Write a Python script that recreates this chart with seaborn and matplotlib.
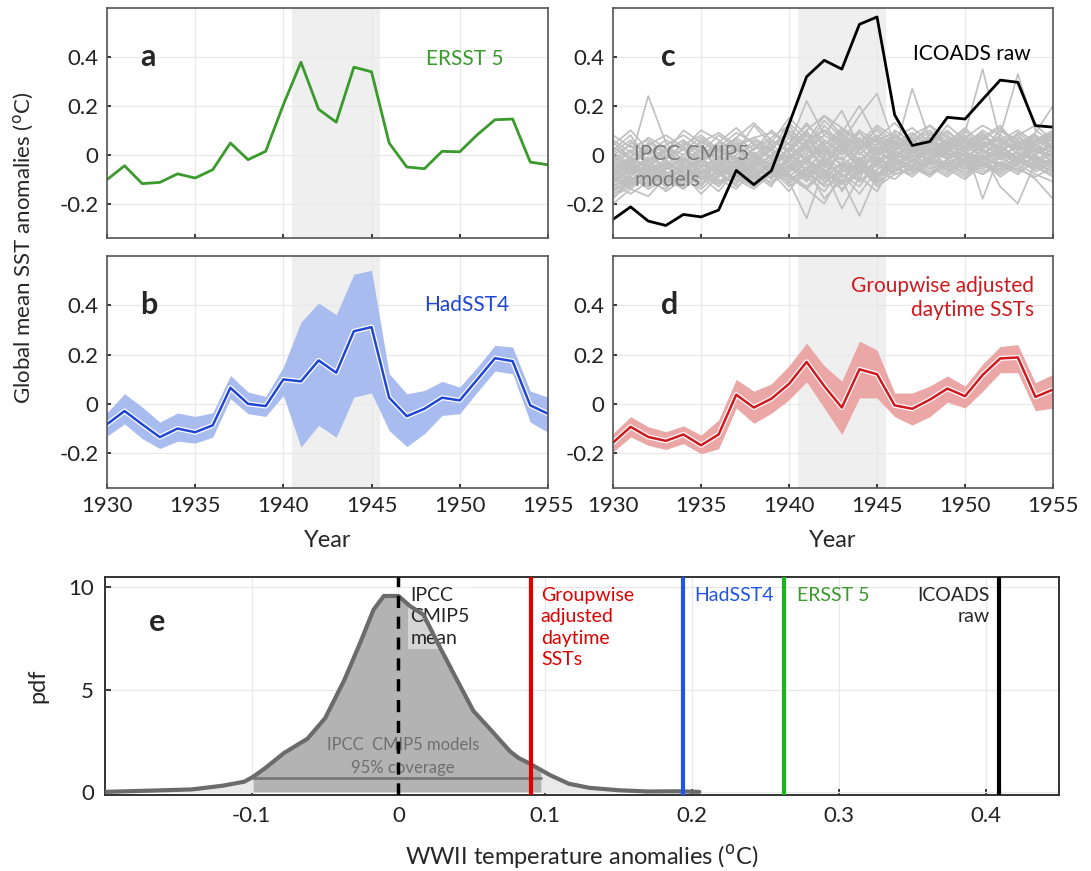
import numpy as np
import pandas as pd
import matplotlib
matplotlib.use('Agg')
import matplotlib.pyplot as plt
import matplotlib.patheffects as pe
import seaborn as sns

# ---------------- data ----------------
YEARS = list(range(1930, 1956))

ERSST5 = [-0.102, -0.045, -0.118, -0.113, -0.078, -0.095, -0.061, 0.048, -0.020, 0.014,
          0.204, 0.378, 0.186, 0.133, 0.358, 0.339, 0.048, -0.050, -0.057, 0.014,
          0.012, 0.082, 0.143, 0.146, -0.030, -0.041]

HADSST4 = [-0.082, -0.028, -0.082, -0.134, -0.099, -0.114, -0.086, 0.066, 0.001, -0.008,
           0.100, 0.092, 0.177, 0.127, 0.295, 0.312, 0.026, -0.049, -0.019, 0.026,
           0.015, 0.100, 0.186, 0.174, -0.005, -0.039]
HADSST4_HI = [-0.035, 0.042, -0.012, -0.073, -0.036, -0.050, -0.035, 0.116, 0.049, 0.031,
              0.150, 0.332, 0.410, 0.362, 0.526, 0.542, 0.123, 0.042, 0.055, 0.092,
              0.069, 0.150, 0.238, 0.231, 0.053, 0.028]
HADSST4_LO = [-0.130, -0.080, -0.140, -0.180, -0.150, -0.158, -0.134, 0.022, -0.039, -0.050,
              0.035, -0.174, -0.086, -0.134, 0.028, 0.045, -0.107, -0.172, -0.120, -0.046,
              -0.039, 0.049, 0.134, 0.123, -0.073, -0.114]

ICOADS = [-0.264, -0.213, -0.271, -0.289, -0.244, -0.254, -0.226, -0.064, -0.122, -0.065,
          0.125, 0.319, 0.386, 0.350, 0.533, 0.563, 0.163, 0.038, 0.054, 0.153,
          0.146, 0.226, 0.305, 0.296, 0.119, 0.113]

GROUPWISE = [-0.156, -0.092, -0.133, -0.149, -0.123, -0.167, -0.123, 0.038, -0.014, 0.022,
             0.082, 0.171, 0.073, -0.014, 0.141, 0.121, -0.005, -0.019, 0.018, 0.063,
             0.032, 0.118, 0.185, 0.189, 0.029, 0.059]
GROUPWISE_HI = [-0.119, -0.051, -0.092, -0.112, -0.088, -0.126, -0.064, 0.100, 0.052, 0.082,
                0.155, 0.247, 0.155, 0.093, 0.255, 0.219, 0.045, 0.045, 0.073, 0.114,
                0.073, 0.162, 0.233, 0.241, 0.086, 0.121]
GROUPWISE_LO = [-0.194, -0.133, -0.167, -0.184, -0.160, -0.201, -0.181, -0.016, -0.078, -0.037,
                0.018, 0.090, -0.016, -0.123, 0.025, 0.025, -0.051, -0.085, -0.051, 0.008,
                -0.016, 0.052, 0.127, 0.127, -0.027, -0.016]

# IPCC CMIP5 model runs (read roughly from the spaghetti cloud)
CMIP5_RUNS = [
    [-0.05, -0.02, 0.24, 0.05, -0.03, 0.02, -0.06, 0.04, -0.01, -0.08, 0.03, 0.10, -0.04, 0.06, 0.01, -0.05, 0.08, 0.02, -0.03, 0.05, 0.10, 0.02, -0.04, 0.06, 0.01, 0.04],
    [-0.10, -0.14, -0.08, -0.12, -0.05, -0.09, -0.15, -0.06, -0.03, -0.10, -0.02, 0.05, -0.08, -0.12, 0.03, -0.04, 0.01, -0.03, 0.04, 0.00, -0.02, 0.05, 0.03, -0.01, 0.06, 0.02],
    [0.02, 0.08, -0.03, 0.01, 0.06, -0.02, 0.03, 0.09, 0.05, -0.01, 0.07, 0.00, 0.12, 0.04, -0.06, 0.08, 0.03, 0.07, 0.01, 0.04, 0.09, 0.35, 0.06, 0.02, 0.05, 0.08],
    [-0.12, -0.06, -0.10, -0.03, -0.08, -0.13, -0.05, -0.09, -0.02, -0.06, -0.11, -0.26, -0.05, -0.01, -0.07, 0.02, -0.04, 0.01, -0.02, 0.03, -0.03, 0.00, -0.05, 0.02, -0.01, -0.04],
    [-0.03, 0.05, 0.01, -0.06, 0.00, 0.04, -0.02, 0.07, 0.02, 0.10, 0.04, 0.22, 0.08, 0.03, 0.10, 0.05, 0.01, 0.27, 0.06, 0.03, 0.07, 0.02, 0.10, 0.04, 0.08, 0.03],
    [-0.15, -0.09, -0.13, -0.07, -0.11, -0.05, -0.10, -0.14, -0.06, -0.09, -0.04, -0.10, -0.02, -0.08, -0.13, -0.03, -0.06, 0.00, -0.04, -0.08, -0.01, -0.05, 0.02, -0.03, -0.06, -0.02],
    [0.05, -0.01, 0.04, 0.08, 0.03, 0.10, 0.06, 0.01, 0.12, 0.04, 0.09, 0.03, 0.14, 0.07, 0.02, 0.11, 0.05, 0.09, 0.04, 0.12, 0.06, 0.03, 0.08, 0.33, 0.10, 0.05],
    [-0.08, -0.12, -0.04, -0.09, -0.14, -0.07, -0.03, -0.11, -0.05, -0.02, -0.08, -0.13, -0.06, -0.22, -0.09, -0.15, -0.02, -0.06, -0.01, -0.04, 0.01, -0.03, -0.07, -0.02, 0.00, -0.05],
    [-0.01, -0.05, 0.02, -0.02, 0.05, 0.01, 0.08, 0.03, -0.04, 0.06, 0.01, 0.08, -0.03, 0.05, 0.16, 0.25, 0.04, 0.01, 0.06, 0.02, 0.00, 0.07, 0.03, 0.09, 0.04, 0.01],
    [-0.18, -0.10, -0.06, -0.12, -0.08, -0.16, -0.09, -0.04, -0.10, -0.07, -0.15, -0.05, -0.18, -0.10, -0.25, -0.08, -0.03, -0.07, -0.02, -0.06, -0.10, -0.04, -0.08, -0.03, -0.05, -0.09],
    [0.08, 0.03, 0.06, 0.01, 0.10, 0.05, 0.02, 0.07, 0.13, 0.06, 0.01, 0.09, 0.04, 0.11, 0.06, -0.02, 0.10, 0.05, 0.12, 0.07, 0.02, 0.06, 0.11, 0.04, 0.09, 0.20],
    [-0.06, -0.03, -0.09, -0.05, -0.01, -0.07, -0.12, -0.02, -0.08, -0.04, 0.00, -0.06, -0.10, -0.03, -0.07, 0.01, -0.02, -0.05, 0.03, -0.01, -0.04, 0.02, -0.02, 0.01, -0.03, 0.00],
    [-0.11, -0.07, -0.02, -0.10, -0.06, -0.03, -0.08, -0.12, -0.04, -0.01, -0.09, -0.03, 0.05, -0.15, -0.05, -0.10, 0.00, -0.03, 0.02, -0.02, 0.04, -0.18, 0.01, -0.04, 0.03, -0.01],
    [0.00, 0.04, -0.05, 0.03, -0.02, 0.06, 0.00, -0.04, 0.03, 0.07, 0.12, 0.02, 0.08, 0.18, 0.03, 0.06, 0.09, 0.02, 0.05, 0.10, 0.03, 0.08, 0.01, 0.06, 0.02, 0.07],
    [-0.20, -0.14, -0.17, -0.09, -0.13, -0.06, -0.11, -0.08, -0.12, -0.05, -0.09, -0.14, -0.07, -0.04, -0.11, -0.06, -0.02, -0.05, -0.09, -0.03, -0.06, -0.01, -0.04, -0.08, -0.02, -0.06],
    [-0.04, 0.01, -0.03, 0.03, -0.05, -0.01, 0.04, -0.03, 0.01, -0.05, 0.02, -0.02, 0.06, 0.01, 0.09, 0.03, -0.01, 0.04, 0.00, 0.03, 0.07, 0.01, 0.04, -0.02, 0.03, 0.01],
    [-0.09, -0.05, -0.11, -0.14, -0.07, -0.10, -0.04, -0.08, -0.13, -0.06, -0.03, -0.08, -0.12, -0.05, -0.02, -0.09, -0.04, -0.01, -0.06, -0.02, -0.05, 0.00, -0.13, -0.20, -0.03, -0.07],
    [0.03, -0.02, 0.01, 0.06, 0.02, -0.03, 0.05, 0.11, 0.04, 0.02, 0.13, 0.06, 0.01, 0.10, 0.05, 0.12, 0.07, 0.03, 0.08, 0.05, 0.11, 0.04, 0.07, 0.02, 0.06, 0.10],
    [-0.07, -0.11, -0.06, -0.02, -0.09, -0.04, -0.08, -0.03, -0.07, -0.12, -0.06, -0.01, -0.09, -0.04, -0.08, -0.02, -0.05, -0.09, -0.03, -0.07, -0.02, -0.06, -0.01, -0.05, -0.10, -0.18],
    [-0.02, -0.07, -0.01, -0.05, 0.03, -0.03, 0.01, 0.05, -0.02, 0.03, -0.05, 0.04, 0.00, 0.07, -0.03, 0.04, 0.08, 0.02, 0.06, 0.01, 0.05, 0.09, 0.02, 0.05, 0.08, 0.03],
    [-0.13, -0.08, -0.04, -0.09, -0.12, -0.02, -0.07, -0.05, 0.00, -0.08, -0.05, -0.11, -0.02, -0.09, -0.04, -0.12, -0.06, -0.02, -0.07, -0.04, -0.08, -0.03, -0.06, -0.01, -0.04, -0.02],
    [0.01, -0.04, 0.03, -0.01, 0.02, 0.07, 0.01, -0.02, 0.06, 0.01, -0.03, 0.05, 0.10, 0.02, 0.07, 0.00, 0.03, 0.06, 0.01, 0.07, 0.03, 0.00, 0.05, 0.02, 0.04, 0.06],
    [-0.16, -0.12, -0.07, -0.11, -0.04, -0.08, -0.13, -0.06, -0.09, -0.03, -0.07, -0.02, -0.06, -0.11, -0.03, -0.07, -0.10, -0.04, -0.08, -0.03, -0.06, -0.02, 0.01, -0.04, -0.01, -0.05],
    [-0.05, -0.01, -0.06, -0.02, -0.07, -0.03, 0.02, -0.01, -0.05, 0.00, 0.05, -0.03, 0.03, -0.02, 0.04, 0.08, -0.01, 0.03, -0.02, 0.02, -0.01, 0.04, 0.00, 0.03, 0.00, 0.05],
    [-0.09, -0.04, -0.10, -0.06, -0.02, -0.08, -0.05, -0.01, -0.07, -0.03, -0.06, 0.02, -0.04, 0.04, -0.02, 0.03, 0.05, -0.01, 0.02, 0.06, 0.01, -0.02, 0.04, 0.08, 0.02, 0.00],
    [-0.02, -0.08, -0.05, -0.11, -0.06, -0.01, -0.09, -0.04, -0.08, -0.13, 0.01, -0.07, 0.03, -0.02, -0.10, 0.05, 0.00, 0.04, -0.01, 0.03, 0.06, -0.02, 0.02, 0.05, -0.03, 0.03],
    [-0.14, -0.10, -0.12, -0.05, -0.09, -0.11, -0.03, -0.07, -0.10, -0.04, -0.12, -0.06, -0.09, 0.02, -0.05, -0.01, -0.05, 0.02, 0.05, 0.00, 0.03, 0.06, 0.01, -0.02, 0.04, 0.07],
    [0.04, 0.10, 0.02, -0.02, 0.04, 0.08, 0.02, 0.06, 0.00, 0.05, 0.15, 0.08, 0.02, 0.09, 0.20, 0.06, 0.02, 0.08, 0.12, 0.04, 0.08, 0.03, 0.06, 0.10, 0.05, 0.09],
    [-0.06, -0.10, -0.13, -0.08, -0.04, -0.10, -0.07, -0.12, -0.03, -0.07, -0.01, -0.09, -0.15, -0.06, -0.01, -0.11, -0.03, 0.00, -0.04, 0.01, -0.03, 0.02, -0.01, 0.04, -0.02, 0.01],
    [-0.11, -0.05, -0.08, -0.13, -0.09, -0.04, -0.06, -0.10, -0.14, -0.08, -0.02, -0.06, 0.02, -0.04, -0.08, -0.02, 0.01, -0.03, 0.03, -0.02, 0.02, 0.05, -0.01, 0.01, -0.02, -0.04],
    [0.00, -0.06, -0.02, 0.02, -0.04, 0.00, 0.05, 0.02, -0.03, 0.03, 0.08, 0.03, -0.05, 0.04, 0.09, 0.01, 0.06, 0.01, 0.04, 0.08, 0.03, 0.07, 0.12, 0.03, 0.07, 0.04],
    [-0.17, -0.13, -0.09, -0.15, -0.10, -0.14, -0.08, -0.05, -0.09, -0.11, -0.06, -0.02, -0.11, -0.07, -0.04, -0.09, -0.05, -0.08, -0.02, -0.05, -0.09, -0.03, -0.06, -0.01, -0.07, -0.03],
    [-0.04, -0.09, -0.03, -0.07, -0.11, -0.05, -0.02, -0.06, 0.00, -0.04, -0.08, 0.06, 0.00, 0.08, 0.03, -0.03, 0.02, 0.06, 0.00, 0.05, -0.01, 0.03, 0.07, 0.00, 0.02, -0.03],
    [-0.08, -0.03, -0.07, -0.10, -0.05, -0.12, -0.07, -0.03, -0.06, 0.00, -0.03, -0.08, -0.01, -0.06, -0.11, -0.04, -0.07, -0.02, -0.05, -0.09, -0.03, -0.07, -0.03, -0.06, -0.01, -0.05],
    [0.06, 0.01, 0.07, 0.03, 0.00, 0.05, 0.09, 0.04, 0.07, 0.02, 0.10, 0.05, 0.16, 0.08, 0.04, 0.02, 0.07, 0.11, 0.05, 0.09, 0.05, 0.01, 0.05, 0.08, 0.12, 0.06],
    [-0.12, -0.16, -0.11, -0.07, -0.13, -0.09, -0.12, -0.07, -0.11, -0.06, -0.13, -0.08, -0.04, -0.12, -0.06, -0.11, -0.07, -0.03, -0.08, -0.04, -0.07, -0.03, -0.09, -0.04, -0.08, -0.11],
    [-0.03, 0.02, -0.04, -0.08, -0.03, 0.01, -0.04, 0.00, 0.04, -0.02, 0.05, 0.12, 0.06, 0.00, 0.05, 0.10, 0.03, 0.00, 0.05, 0.02, 0.06, 0.01, 0.05, 0.02, 0.06, 0.09],
    [-0.10, -0.06, -0.01, -0.05, -0.09, -0.06, -0.11, -0.08, -0.02, -0.06, -0.09, -0.03, -0.07, -0.12, -0.08, -0.03, -0.06, -0.04, -0.01, -0.05, -0.02, -0.05, 0.00, -0.03, -0.05, -0.01],
    [-0.07, -0.02, -0.05, 0.00, -0.06, -0.02, -0.05, -0.09, -0.04, 0.02, -0.02, 0.03, -0.01, 0.05, -0.04, 0.00, 0.04, 0.08, 0.03, -0.01, 0.04, 0.10, 0.05, 0.03, 0.08, 0.02],
    [-0.13, -0.09, -0.14, -0.10, -0.06, -0.02, -0.07, -0.13, -0.08, -0.05, -0.10, -0.06, -0.13, -0.09, -0.05, -0.13, -0.08, -0.05, -0.08, -0.04, 0.00, -0.04, -0.07, -0.02, -0.05, -0.08],
    [0.01, 0.06, 0.00, 0.04, 0.08, 0.03, -0.01, 0.03, 0.07, 0.09, 0.04, 0.13, 0.04, 0.09, 0.03, 0.07, 0.13, 0.06, 0.10, 0.04, 0.07, 0.12, 0.08, 0.04, 0.00, 0.04],
    [-0.05, -0.11, -0.07, -0.03, -0.08, -0.12, -0.06, -0.02, -0.06, -0.09, -0.04, -0.09, -0.03, -0.08, -0.16, -0.06, -0.01, -0.05, -0.08, -0.02, -0.05, -0.08, -0.03, -0.07, -0.03, 0.00],
    [-0.09, -0.13, -0.06, -0.04, -0.10, -0.07, -0.03, -0.09, -0.05, -0.10, 0.00, -0.04, -0.08, 0.03, -0.05, -0.09, 0.02, -0.02, 0.01, -0.04, 0.00, -0.03, 0.02, -0.02, 0.02, -0.01],
    [-0.01, -0.04, 0.05, 0.00, -0.03, 0.03, -0.03, 0.02, -0.01, 0.04, -0.01, 0.06, 0.10, 0.05, 0.00, 0.07, 0.02, 0.05, 0.09, 0.03, 0.07, 0.02, 0.10, 0.06, 0.01, 0.05],
    [-0.15, -0.11, -0.05, -0.10, -0.14, -0.08, -0.04, -0.09, -0.13, -0.07, -0.11, -0.05, -0.09, -0.14, -0.07, -0.04, -0.08, -0.06, -0.03, -0.06, -0.04, -0.08, -0.04, -0.06, -0.09, -0.05],
    [-0.04, -0.07, -0.12, -0.06, -0.02, -0.05, -0.01, -0.05, -0.09, -0.04, 0.03, -0.01, 0.04, -0.05, 0.02, 0.06, -0.02, 0.02, -0.03, 0.04, 0.01, -0.01, 0.03, -0.01, 0.04, 0.01],
    [-0.08, -0.02, -0.08, -0.04, -0.07, -0.10, -0.04, -0.07, -0.01, -0.05, -0.09, -0.14, -0.20, -0.07, -0.03, -0.08, -0.03, -0.07, -0.02, 0.01, -0.04, -0.01, -0.05, -0.01, -0.04, -0.07],
    [0.03, -0.01, -0.05, 0.02, 0.06, 0.01, 0.03, -0.02, 0.02, 0.06, 0.02, 0.10, 0.16, 0.11, 0.06, 0.02, 0.05, 0.03, 0.07, 0.02, 0.05, 0.08, 0.02, 0.07, 0.04, 0.08],
]

# panel e: pdf of WWII anomalies in CMIP5 runs
PDF_X = [-0.200, -0.170, -0.141, -0.120, -0.105, -0.099, -0.091, -0.078, -0.062, -0.050,
         -0.037, -0.026, -0.017, -0.010, 0.000, 0.008, 0.017, 0.028, 0.040, 0.051,
         0.062, 0.076, 0.082, 0.089, 0.103, 0.116, 0.130, 0.150, 0.170, 0.190, 0.205]
PDF_Y = [0.00, 0.06, 0.12, 0.30, 0.50, 0.74, 1.15, 1.90, 2.60, 3.60,
         5.45, 7.30, 8.90, 9.57, 9.57, 9.07, 8.66, 7.10, 5.45, 3.96,
         3.10, 1.98, 1.65, 1.40, 0.83, 0.40, 0.20, 0.08, 0.02, 0.03, 0.00]
COVERAGE_95 = [-0.099, 0.097]
WWII_VALUES = {'CMIP5 mean': 0.0, 'Groupwise': 0.090, 'HadSST4': 0.194,
               'ERSST 5': 0.263, 'ICOADS raw': 0.409}

SHADE = (1940.5, 1945.5)
YT = [-0.2, 0, 0.2, 0.4]
YT_LABELS = ['-0.2', '0', '0.2', '0.4']
XT = [1930, 1935, 1940, 1945, 1950, 1955]

GREEN = '#3a9a2c'
BLUE = '#1f45d6'
RED = '#d0181e'

# ---------------- plot ----------------
sns.set_theme(style='whitegrid')
plt.rcParams['font.family'] = ['Lato', 'DejaVu Sans']
plt.rcParams['axes.edgecolor'] = '#555555'
plt.rcParams['grid.color'] = '#e8e8e8'

fig = plt.figure(figsize=(10.91, 8.71), dpi=100)
ax_a = fig.add_axes([0.098, 0.7268, 0.4042, 0.2641])
ax_b = fig.add_axes([0.098, 0.4397, 0.4042, 0.2664])
ax_c = fig.add_axes([0.5619, 0.7268, 0.4033, 0.2641])
ax_d = fig.add_axes([0.5619, 0.4397, 0.4033, 0.2664])
ax_e = fig.add_axes([0.0962, 0.0873, 0.8744, 0.2503])

halo = [pe.Stroke(linewidth=3.6, foreground='white'), pe.Normal()]

for ax in (ax_a, ax_b, ax_c, ax_d):
    ax.axvspan(*SHADE, color='#efefef', zorder=0, lw=0)
    ax.set_xlim(1930, 1955)
    ax.set_ylim(-0.34, 0.6)
    ax.set_xticks(XT)
    ax.set_yticks(YT)
    ax.set_yticklabels(YT_LABELS)
    ax.tick_params(labelsize=16, direction='in', length=3, colors='#222222',
                   pad=6, bottom=True, left=True)
    ax.grid(True, lw=0.9)
    for s in ax.spines.values():
        s.set_linewidth(1.2)
    ax.set_axisbelow(True)

for ax in (ax_a, ax_c):
    ax.set_xticklabels([])

# a: ERSST 5
sns.lineplot(x=YEARS, y=ERSST5, ax=ax_a, color=GREEN, lw=2)
ax_a.text(1931.9, 0.4, 'a', fontsize=22, fontweight='bold', va='center')
ax_a.text(1950.3, 0.39, 'ERSST 5', fontsize=15, color=GREEN, ha='center', va='center')

# b: HadSST4 with uncertainty
ax_b.fill_between(YEARS, HADSST4_LO, HADSST4_HI, color='#a9bcf0', lw=0)
sns.lineplot(x=YEARS, y=HADSST4, ax=ax_b, color=BLUE, lw=1.8)
ax_b.lines[-1].set_path_effects(halo)
ax_b.text(1931.9, 0.4, 'b', fontsize=22, fontweight='bold', va='center')
ax_b.text(1950.4, 0.4, 'HadSST4', fontsize=15, color=BLUE, ha='center', va='center')

# c: ICOADS raw and CMIP5 runs
runs = pd.DataFrame({
    'year': YEARS * len(CMIP5_RUNS),
    'sst': [v for run in CMIP5_RUNS for v in run],
    'run': np.repeat(np.arange(len(CMIP5_RUNS)), len(YEARS)),
})
sns.lineplot(data=runs, x='year', y='sst', units='run', estimator=None,
             ax=ax_c, color='#bfbfbf', lw=1.2)
sns.lineplot(x=YEARS, y=ICOADS, ax=ax_c, color='black', lw=2)
ax_c.text(1932.7, 0.4, 'c', fontsize=22, fontweight='bold', va='center')
ax_c.text(1950.4, 0.41, 'ICOADS raw', fontsize=15, color='black', ha='center', va='center')
ax_c.text(1931.2, -0.05, 'IPCC CMIP5\nmodels', fontsize=15, color='#7a7a7a',
          ha='left', va='center', linespacing=1.35)

# d: groupwise adjusted daytime SSTs
ax_d.fill_between(YEARS, GROUPWISE_LO, GROUPWISE_HI, color='#eba6a6', lw=0)
sns.lineplot(x=YEARS, y=GROUPWISE, ax=ax_d, color=RED, lw=1.8)
ax_d.lines[-1].set_path_effects(halo)
ax_d.text(1932.7, 0.4, 'd', fontsize=22, fontweight='bold', va='center')
ax_d.text(1953.9, 0.43, 'Groupwise adjusted\ndaytime SSTs', fontsize=15, color=RED,
          ha='right', va='center', linespacing=1.3, multialignment='right')

for ax in (ax_b, ax_d):
    ax.set_xlabel('Year', fontsize=17, labelpad=10)
for ax in (ax_a, ax_b, ax_c, ax_d):
    ax.set_ylabel('')

fig.text(0.022, 0.715, 'Global mean SST anomalies ($^{\\rm o}$C)', rotation=90,
         fontsize=16, ha='center', va='center')

# e: pdf
px = np.array(PDF_X)
py = np.array(PDF_Y)
ax_e.fill_between(px, 0, py, color='#e9e9e9', lw=0, zorder=1)
xi = np.concatenate([[COVERAGE_95[0]], px[(px > COVERAGE_95[0]) & (px < COVERAGE_95[1])], [COVERAGE_95[1]]])
yi = np.interp(xi, px, py)
ax_e.fill_between(xi, 0, yi, color='#b3b3b3', lw=0, zorder=1)
sns.lineplot(x=PDF_X, y=PDF_Y, ax=ax_e, color='#6b6b6b', lw=3, zorder=3)
ax_e.plot(COVERAGE_95, [0.7, 0.7], color='#777777', lw=2, zorder=3)
ax_e.text(0.003, 2.3, 'IPCC  CMIP5 models', fontsize=12, color='#6f6f6f',
          ha='center', va='center', zorder=4)
ax_e.text(0.003, 1.15, '95% coverage', fontsize=12, color='#6f6f6f',
          ha='center', va='center', zorder=4)

ax_e.axvline(WWII_VALUES['CMIP5 mean'], color='black', lw=2.5, ls=(0, (3.5, 2.5)), zorder=5)
ax_e.axvline(WWII_VALUES['Groupwise'], color='#e00000', lw=3, zorder=5)
ax_e.axvline(WWII_VALUES['HadSST4'], color='#2255e6', lw=3, zorder=5)
ax_e.axvline(WWII_VALUES['ERSST 5'], color='#1fb41f', lw=3, zorder=5)
ax_e.axvline(WWII_VALUES['ICOADS raw'], color='black', lw=3, zorder=5)

ax_e.text(0.008, 10.0, 'IPCC\nCMIP5\nmean', fontsize=14, va='top', ha='left',
          linespacing=1.3, zorder=2,
          bbox=dict(facecolor='white', alpha=0.45, edgecolor='none', pad=2))
ax_e.text(0.097, 10.0, 'Groupwise\nadjusted\ndaytime\nSSTs', fontsize=14, va='top',
          ha='left', color='#e00000', linespacing=1.3, zorder=4)
ax_e.text(0.2015, 10.0, 'HadSST4', fontsize=14, va='top', ha='left', color='#2255e6')
ax_e.text(0.2715, 10.0, 'ERSST 5', fontsize=14, va='top', ha='left', color=GREEN)
ax_e.text(0.403, 10.0, 'ICOADS\nraw', fontsize=14, va='top', ha='right',
          linespacing=1.3, multialignment='right')
ax_e.text(-0.17, 8.3, 'e', fontsize=22, fontweight='bold', va='center')

ax_e.set_xlim(-0.2, 0.45)
ax_e.set_ylim(-0.15, 10.5)
ax_e.set_xticks([-0.1, 0, 0.1, 0.2, 0.3, 0.4])
ax_e.set_xticklabels(['-0.1', '0', '0.1', '0.2', '0.3', '0.4'])
ax_e.set_yticks([0, 5, 10])
ax_e.set_yticklabels(['0', '5', '10'])
ax_e.tick_params(labelsize=16, direction='in', length=4, colors='#222222', pad=8,
                 bottom=True, left=True)
ax_e.grid(True, lw=0.9)
for s in ax_e.spines.values():
    s.set_linewidth(1.4)
    s.set_color('#333333')
ax_e.set_xlabel('WWII temperature anomalies ($^{\\rm o}$C)', fontsize=17, labelpad=12)
ax_e.set_ylabel('pdf', fontsize=17, labelpad=14)

fig.savefig('out.png', dpi=100)
